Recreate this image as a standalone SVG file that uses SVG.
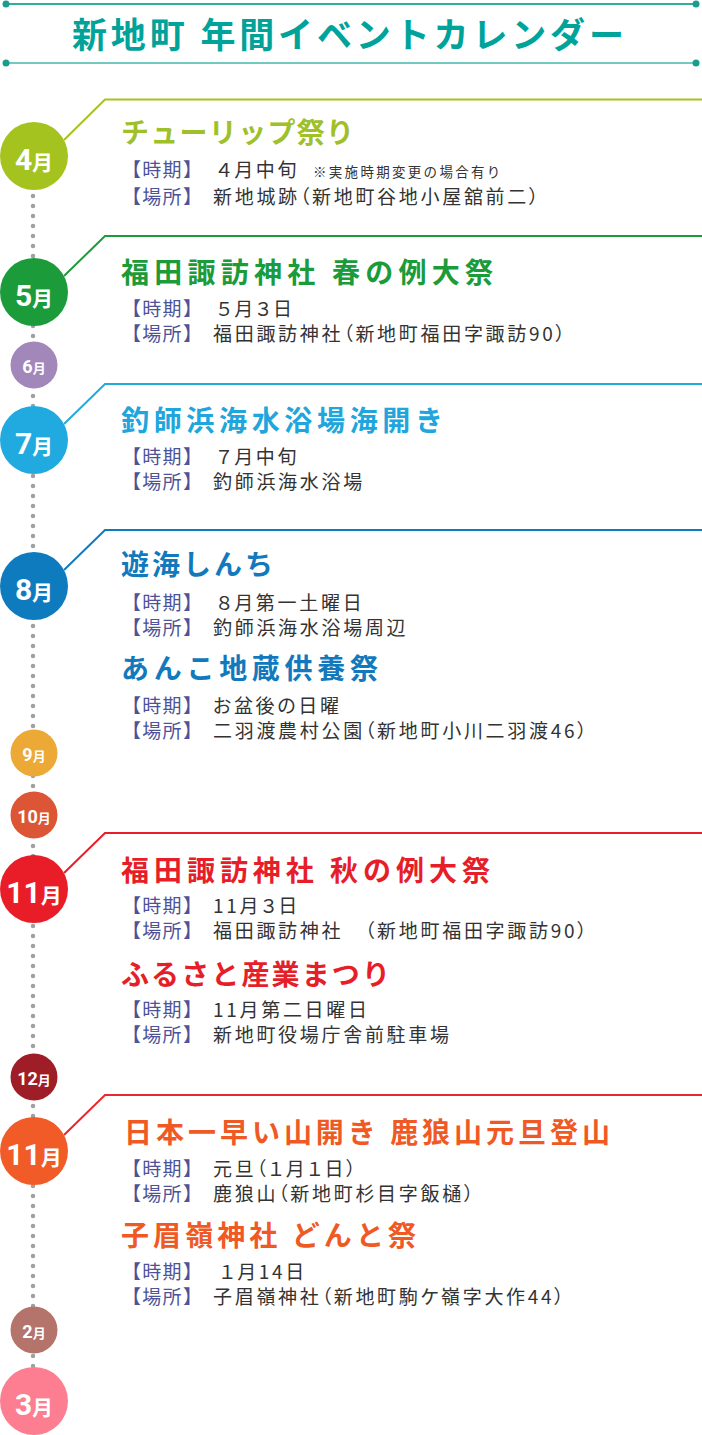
<svg xmlns="http://www.w3.org/2000/svg" width="702" height="1435" viewBox="0 0 702 1435">
<style>
.jp{font-family:'Noto Sans CJK JP',sans-serif}
.ttl{font-family:'Noto Sans CJK JP',sans-serif;font-weight:700;font-size:28px}
.lab{font-family:'Noto Sans CJK JP',sans-serif;font-size:19px;fill:#4c5399;letter-spacing:1.3px}
.val{font-family:'Noto Sans CJK JP',sans-serif;font-size:19px;fill:#333;letter-spacing:2.7px;font-feature-settings:"palt"}
.note{font-family:'Noto Sans CJK JP',sans-serif;font-size:13.5px;fill:#333;letter-spacing:2.3px}
.ml{fill:#fff;font-weight:700;text-anchor:middle}
.dL{font-family:Roboto,'Liberation Sans',sans-serif;font-size:30px}
.mL{font-family:'Noto Sans CJK JP',sans-serif;font-size:21px}
.dS{font-family:Roboto,'Liberation Sans',sans-serif;font-size:18px}
.mS{font-family:'Noto Sans CJK JP',sans-serif;font-size:13px}
.con{fill:none;stroke-width:2}
</style>
<rect width="702" height="1435" fill="#fff"/>
<g id="header">
<line x1="6" y1="4" x2="696" y2="4" stroke="#35ab9e" stroke-width="2"/>
<circle cx="6" cy="4" r="3.5" fill="#1a9d8e"/><circle cx="696" cy="4" r="3.5" fill="#1a9d8e"/>
<line x1="6" y1="63" x2="696" y2="63" stroke="#72c9bf" stroke-width="2"/>
<circle cx="6" cy="63" r="3.5" fill="#1a9d8e"/><circle cx="696" cy="63" r="3.5" fill="#1a9d8e"/>
<text x="72" y="48" class="jp" font-size="35" font-weight="700" fill="#00a39a" textLength="552" lengthAdjust="spacing">新地町 年間イベントカレンダー</text>
</g>
<g id="connectors">
<line x1="33" y1="156" x2="33" y2="1396" stroke="#a0a0a0" stroke-width="4.5" stroke-linecap="round" stroke-dasharray="0 10"/>
<polyline class="con" stroke="#a5c31f" points="64,140 105,99.5 702,99.5"/>
<polyline class="con" stroke="#1b9b3a" points="64,276 105,236 702,236"/>
<polyline class="con" stroke="#20aadf" points="64,424 105,384 702,384"/>
<polyline class="con" stroke="#0f7bbf" points="64,570 105,530 702,530"/>
<polyline class="con" stroke="#e81d27" points="64,873 105,833 702,833"/>
<polyline class="con" stroke="#e8282e" points="64,1135 105,1095 702,1095"/>
</g>
<g id="m04"><circle cx="34" cy="156" r="34" fill="#a5c31f"/><text x="34" y="170" class="ml"><tspan class="dL">4</tspan><tspan class="mL">月</tspan></text></g>
<g id="m05"><circle cx="34" cy="292" r="34" fill="#1b9b3a"/><text x="34" y="306" class="ml"><tspan class="dL">5</tspan><tspan class="mL">月</tspan></text></g>
<g id="m06"><circle cx="34" cy="365" r="23.5" fill="#a287ba"/><text x="34" y="373" class="ml"><tspan class="dS">6</tspan><tspan class="mS">月</tspan></text></g>
<g id="m07"><circle cx="34" cy="440" r="34" fill="#20aadf"/><text x="34" y="454" class="ml"><tspan class="dL">7</tspan><tspan class="mL">月</tspan></text></g>
<g id="m08"><circle cx="34" cy="586" r="34" fill="#0f7bbf"/><text x="34" y="600" class="ml"><tspan class="dL">8</tspan><tspan class="mL">月</tspan></text></g>
<g id="m09"><circle cx="34" cy="753" r="23.5" fill="#eda935"/><text x="34" y="761" class="ml"><tspan class="dS">9</tspan><tspan class="mS">月</tspan></text></g>
<g id="m10"><circle cx="34" cy="815" r="23.5" fill="#dc5636"/><text x="34" y="823" class="ml"><tspan class="dS">10</tspan><tspan class="mS">月</tspan></text></g>
<g id="m11"><circle cx="34" cy="889" r="34" fill="#e81d27"/><text x="34" y="903" class="ml"><tspan class="dL">11</tspan><tspan class="mL">月</tspan></text></g>
<g id="m12"><circle cx="34" cy="1077" r="23.5" fill="#9f1d26"/><text x="34" y="1085" class="ml"><tspan class="dS">12</tspan><tspan class="mS">月</tspan></text></g>
<g id="m01"><circle cx="34" cy="1151" r="34" fill="#f15b27"/><text x="34" y="1165" class="ml"><tspan class="dL">11</tspan><tspan class="mL">月</tspan></text></g>
<g id="m02"><circle cx="34" cy="1330" r="23.5" fill="#b5746b"/><text x="34" y="1338" class="ml"><tspan class="dS">2</tspan><tspan class="mS">月</tspan></text></g>
<g id="m03"><circle cx="34" cy="1401" r="34" fill="#fd7d91"/><text x="34" y="1415" class="ml"><tspan class="dL">3</tspan><tspan class="mL">月</tspan></text></g>
<g id="ev-tulip">
<text x="121" y="143" class="ttl" fill="#a0c02a" textLength="233" lengthAdjust="spacing">チューリップ祭り</text>
<text x="122" y="177" class="lab">【時期】</text><text x="217" y="177" class="val">４月中旬</text><text x="313" y="177" class="note">※実施時期変更の場合有り</text>
<text x="122" y="203.5" class="lab">【場所】</text><text x="213" y="203.5" class="val">新地城跡（新地町谷地小屋舘前二）</text>
</g>
<g id="ev-spring">
<text x="121" y="283" class="ttl" fill="#1b9b3a" textLength="372" lengthAdjust="spacing">福田諏訪神社 春の例大祭</text>
<text x="122" y="315.5" class="lab">【時期】</text><text x="217" y="315.5" class="val">５月３日</text>
<text x="122" y="340.5" class="lab">【場所】</text><text x="213" y="340.5" class="val">福田諏訪神社（新地町福田字諏訪90）</text>
</g>
<g id="ev-beach">
<text x="121" y="431" class="ttl" fill="#20a6dc" textLength="322" lengthAdjust="spacing">釣師浜海水浴場海開き</text>
<text x="122" y="464" class="lab">【時期】</text><text x="217" y="464" class="val">７月中旬</text>
<text x="122" y="489" class="lab">【場所】</text><text x="213" y="489" class="val">釣師浜海水浴場</text>
</g>
<g id="ev-yukai">
<text x="121" y="575" class="ttl" fill="#1279bc" textLength="152" lengthAdjust="spacing">遊海しんち</text>
<text x="122" y="609.5" class="lab">【時期】</text><text x="217" y="609.5" class="val">８月第一土曜日</text>
<text x="122" y="635" class="lab">【場所】</text><text x="213" y="635" class="val">釣師浜海水浴場周辺</text>
</g>
<g id="ev-anko">
<text x="121" y="679" class="ttl" fill="#1279bc" textLength="257" lengthAdjust="spacing">あんこ地蔵供養祭</text>
<text x="122" y="713" class="lab">【時期】</text><text x="213" y="713" class="val">お盆後の日曜</text>
<text x="122" y="738" class="lab">【場所】</text><text x="213" y="738" class="val">二羽渡農村公園（新地町小川二羽渡46）</text>
</g>
<g id="ev-autumn">
<text x="121" y="881" class="ttl" fill="#e61e29" textLength="369" lengthAdjust="spacing">福田諏訪神社 秋の例大祭</text>
<text x="122" y="913" class="lab">【時期】</text><text x="213" y="913" class="val">11月３日</text>
<text x="122" y="938" class="lab">【場所】</text><text x="213" y="938" class="val">福田諏訪神社　（新地町福田字諏訪90）</text>
</g>
<g id="ev-furusato">
<text x="121" y="985" class="ttl" fill="#e61e29" textLength="269" lengthAdjust="spacing">ふるさと産業まつり</text>
<text x="122" y="1016.5" class="lab">【時期】</text><text x="213" y="1016.5" class="val">11月第二日曜日</text>
<text x="122" y="1041.5" class="lab">【場所】</text><text x="213" y="1041.5" class="val">新地町役場庁舎前駐車場</text>
</g>
<g id="ev-rokuro">
<text x="124" y="1143" class="ttl" fill="#ef5a24" textLength="486" lengthAdjust="spacing">日本一早い山開き 鹿狼山元旦登山</text>
<text x="122" y="1175.5" class="lab">【時期】</text><text x="213" y="1175.5" class="val">元旦（１月１日）</text>
<text x="122" y="1200.5" class="lab">【場所】</text><text x="213" y="1200.5" class="val">鹿狼山（新地町杉目字飯樋）</text>
</g>
<g id="ev-donto">
<text x="121" y="1246" class="ttl" fill="#ef5a24" textLength="295" lengthAdjust="spacing">子眉嶺神社 どんと祭</text>
<text x="122" y="1279" class="lab">【時期】</text><text x="220" y="1279" class="val">１月14日</text>
<text x="122" y="1303.5" class="lab">【場所】</text><text x="213" y="1303.5" class="val">子眉嶺神社（新地町駒ケ嶺字大作44）</text>
</g>
</svg>
